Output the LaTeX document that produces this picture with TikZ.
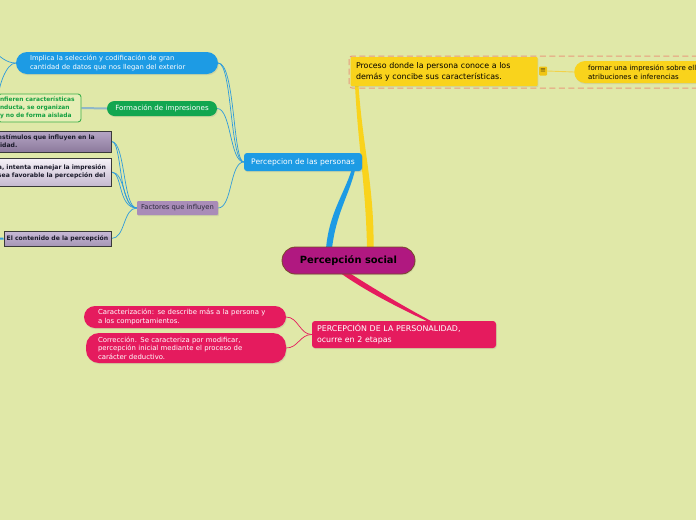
\documentclass[tikz,border=0pt]{standalone}
\usepackage{fontspec}
\setmainfont{DejaVu Sans}
\usetikzlibrary{calc,shadows}
\pgfdeclarelayer{bg}\pgfdeclarelayer{back}
\pgfsetlayers{bg,back,main}
\definecolor{bgc}{HTML}{E0E8A8}
\definecolor{mblue}{HTML}{1D9BE4}
\definecolor{cblue}{HTML}{2E9BDB}
\definecolor{mgreen}{HTML}{12A650}
\definecolor{mpurple}{HTML}{A98CB8}
\definecolor{myellow}{HTML}{F9D31C}
\definecolor{mmag}{HTML}{B01880}
\definecolor{mcrim}{HTML}{E51B5E}
\definecolor{mdash}{HTML}{E89A7C}
\definecolor{mbrown}{HTML}{7A4A2A}
\definecolor{mgline}{HTML}{8FB7C9}
\definecolor{icfill}{HTML}{F0C414}
\definecolor{ictext}{HTML}{5A4A10}
\definecolor{ptext}{HTML}{2A2A3A}
\definecolor{gdraw}{HTML}{3DB04A}
\definecolor{gfill}{HTML}{E6EEB6}
\definecolor{gtext}{HTML}{15A040}
\definecolor{ldraw}{HTML}{3A3A3A}
\definecolor{ltext}{HTML}{1A1A2A}
\definecolor{yline}{HTML}{F2D24A}
\definecolor{bia}{HTML}{B6A6C6}
\definecolor{bib}{HTML}{8C7A9C}
\definecolor{bza}{HTML}{F6F2F8}
\definecolor{bzb}{HTML}{C6BAD0}
\definecolor{bda}{HTML}{C8BAD6}
\definecolor{bdb}{HTML}{A696B6}
\tikzset{
  shad/.style={drop shadow={opacity=0.18,shadow xshift=0.8pt,shadow yshift=-1.2pt}},
  cnode/.style={shad,rounded corners=13.5pt,minimum width=133pt,minimum height=27pt,fill=mmag,draw=mbrown,line width=0.8pt,font=\bfseries\fontsize{9.9}{11}\selectfont,text=black,inner sep=0pt},
  bluebox/.style={shad,rounded corners=3pt,fill=mblue,text=white,inner sep=0pt,font=\fontsize{7.6}{9}\selectfont},
  yellowbox/.style={shad,fill=myellow,text=black,align=left,text width=176pt,inner xsep=5.5pt,inner ysep=0pt,minimum height=29pt,rounded corners=1pt,font=\fontsize{7.9}{11}\selectfont},
  iconbox/.style={fill=icfill,rounded corners=1pt,minimum width=8pt,minimum height=9pt,inner sep=0pt,font=\fontsize{7}{7}\selectfont,text=ictext},
  ypill/.style={shad,fill=myellow,text=black,align=left,rounded corners=11pt,minimum height=22pt,inner xsep=14pt,inner ysep=0pt,text width=150pt,font=\fontsize{7}{9}\selectfont},
  crimbox/.style={shad,fill=mcrim,text=white,align=left,rounded corners=3pt,minimum height=27pt,inner xsep=5pt,inner ysep=0pt,text width=174pt,font=\fontsize{7.9}{11}\selectfont},
  crpill/.style={shad,fill=mcrim,text=white,align=left,rounded corners=11pt,minimum height=22pt,inner xsep=14pt,inner ysep=0pt,text width=174pt,font=\fontsize{6.9}{8.5}\selectfont},
  bpill/.style={shad,fill=mblue,text=white,align=left,rounded corners=11pt,minimum height=22pt,inner xsep=14pt,inner ysep=0pt,text width=174pt,font=\fontsize{6.8}{9.5}\selectfont},
  gpill/.style={shad,fill=mgreen,text=white,rounded corners=7.5pt,minimum width=110pt,minimum height=15pt,inner sep=0pt,font=\fontsize{7.1}{8}\selectfont},
  pbox/.style={shad,fill=mpurple,text=ptext,rounded corners=1pt,minimum width=81pt,minimum height=14pt,inner sep=0pt,font=\fontsize{6.8}{8}\selectfont},
  gbox/.style={draw=gdraw,line width=0.9pt,fill=gfill,rounded corners=3pt,text=gtext,align=left,text width=79pt,inner xsep=2pt,inner ysep=0pt,minimum height=28pt,font=\bfseries\fontsize{5.9}{8}\selectfont},
  lbox/.style={shad,draw=ldraw,line width=1pt,text=ltext,inner ysep=0pt,font=\bfseries\fontsize{6.1}{8}\selectfont},
  conn/.style={draw=cblue,line width=0.7pt},
  crconn/.style={draw=mcrim,line width=0.7pt},
}
\begin{document}
\begin{tikzpicture}[x=1pt,y=-1pt]
\useasboundingbox (0,0) rectangle (696,520);
\begin{pgfonlayer}{bg}
\fill[bgc] (0,0) rectangle (696,520);
\end{pgfonlayer}
\clip (0,0) rectangle (696,520);

% main nodes
\node[cnode] (c) at (348.5,260.5) {Percepción social};
\node[bluebox,minimum width=118pt,minimum height=18pt] (ps) at (303,162) {Percepcion de las personas};
\node[yellowbox] (yb) at (444,71.5) {Proceso donde la persona conoce a los\\demás y concibe sus características.};
\node[iconbox] (ic) at (543,71) {≡};
\node[ypill,anchor=west] (fi) at (574,72) {formar una impresión sobre ell\\atribuciones e inferencias};
\node[crimbox] (pp) at (404,334.5) {PERCEPCIÓN DE LA PERSONALIDAD,\\ocurre en 2 etapas};
\node[crpill] (ca) at (185,317) {Caracterización: se describe más a la persona y\\a los comportamientos.};
\node[crpill,text width=176pt,inner xsep=12pt,minimum height=30pt,rounded corners=13pt] (co) at (186,348) {Corrección. Se caracteriza por modificar,\\percepción inicial mediante el proceso de\\carácter deductivo.};
\node[bpill] (im) at (117,63) {Implica la selección y codificación de gran\\cantidad de datos que nos llegan del exterior};
\node[gpill] (fo) at (162,108.5) {Formación de impresiones};
\node[pbox] (fa) at (177.5,208) {Factores que influyen};
\node[gbox] (gb) at (39.5,108) {nfieren características\\nducta, se organizan\\y no de forma aislada};
\node[lbox,top color=bia,bottom color=bib,align=left,text width=111pt,inner xsep=2pt,minimum height=21pt] (b1) at (53.5,141.5) {estímulos que influyen en la\\lidad.};
\node[lbox,top color=bza,bottom color=bzb,align=left,text width=111pt,inner xsep=2pt,minimum height=28pt] (b2) at (53.5,172) {a, intenta manejar la impresión\\sea favorable la percepción del};
\node[lbox,top color=bda,bottom color=bdb,minimum width=107pt,minimum height=15pt,inner xsep=0pt] (b3) at (57.5,238.5) {El contenido de la percepción};

\coordinate (o1) at (-6,52);
\coordinate (o2) at (-2,100);
\coordinate (b3l) at (-6,239);

\begin{pgfonlayer}{back}
% frame around the yellow topic
\draw[mdash,line width=1pt,dash pattern=on 6pt off 3.5pt,rounded corners=3pt] (349,56) rectangle (704,88);

% thick tapered branches
\fill[mblue] ($(c.north)+(-22.5,2)$) .. controls +(3,-35) and +(-8,25) .. ($(ps.south)+(48.5,-1)$)
   -- ($(ps.south)+(52,-1)$) .. controls +(-6,25) and +(4,-35) .. ($(c.north)+(-16.5,2)$) -- cycle;
\fill[myellow] ($(c.north)+(18.5,2)$) .. controls +(-1,-60) and +(3,60) .. ($(yb.south)+(-89,-1)$)
   -- ($(yb.south)+(-85.5,-1)$) .. controls +(4,60) and +(1,-60) .. ($(c.north)+(25,2)$) -- cycle;
\fill[mcrim] ($(c.south)+(-9,-2)$) .. controls +(25,18) and +(-30,-14) .. ($(pp.north)+(24.5,1)$)
   -- ($(pp.north)+(28.5,1)$) .. controls +(-30,-16) and +(25,16) .. ($(c.south)+(0,-2)$) -- cycle;

% thin connectors
\draw[conn] (ps.west) .. controls +(-14,0) and +(14,0) .. (im.east);
\draw[conn] (ps.west) .. controls +(-11,0) and +(17,0) .. (im.east);
\draw[conn] (ps.west) .. controls +(-14,0) and +(14,0) .. (fo.east);
\draw[conn] (ps.west) .. controls +(-14,0) and +(14,0) .. (fa.east);
\draw[conn] (fa.west) .. controls +(-14,0) and +(14,0) .. (b1.east);
\draw[conn] (fa.west) .. controls +(-19,0) and +(11,0) .. (b1.east);
\draw[conn] (fa.west) .. controls +(-14,0) and +(14,0) .. (b2.east);
\draw[conn] (fa.west) .. controls +(-19,0) and +(11,0) .. (b2.east);
\draw[conn] (fa.west) .. controls +(-14,0) and +(14,0) .. (b3.east);
\draw[conn] (im.west) .. controls +(-10,0) and +(6,4) .. (o1);
\draw[conn] (im.west) .. controls +(-10,0) and +(0,-12) .. (o2);
\draw[cblue,line width=2pt] (b3l) -- (b3.west);
\draw[mgline,line width=2pt] (gb.east) -- (fo.west);
\draw[crconn] (pp.west) .. controls +(-12,0) and +(12,0) .. (ca.east);
\draw[crconn] (pp.west) .. controls +(-12,0) and +(12,0) .. (co.east);
\draw[yline,line width=0.9pt] (ic.east) -- (fi.west);
\end{pgfonlayer}
\end{tikzpicture}
\end{document}
